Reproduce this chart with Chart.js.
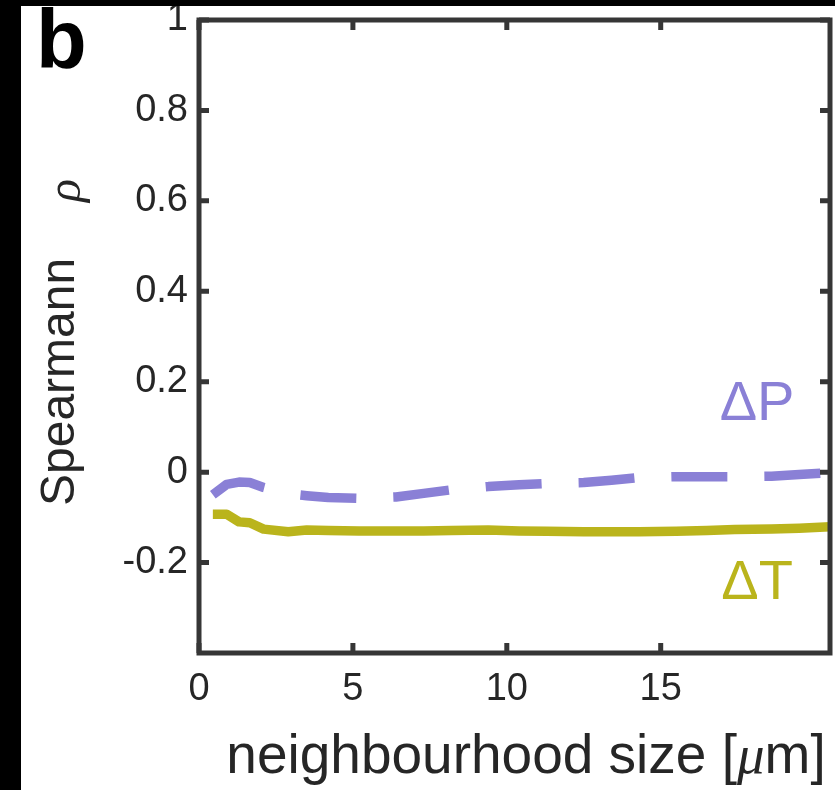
<!DOCTYPE html>
<html>
<head>
<meta charset="utf-8">
<script src="https://cdn.jsdelivr.net/npm/chart.js@4/dist/chart.umd.min.js"></script>
<style>
  html, body { margin: 0; padding: 0; background: #000; width: 835px; height: 790px; overflow: hidden; }
  #panel { position: absolute; left: 21px; top: 6px; width: 814px; height: 784px; background: #fff; }
  canvas { display: block; }
</style>
</head>
<body>
<div id="panel"><canvas id="chart" width="814" height="784"></canvas></div>
<script>
// neighbourhood size [µm]
const sizes  = [0.45, 0.9, 1.3, 1.65, 2.1, 2.9, 3.5, 4.2, 5.2, 6.4, 7.3, 8.2, 9.4, 10.4, 11.3, 12.5, 13.4, 14.3, 15.5, 16.5, 17.4, 18.6, 19.5, 20.5];
// Spearman correlation for the two quantities
const deltaP = [-0.050, -0.027, -0.022, -0.023, -0.034, -0.048, -0.052, -0.056, -0.058, -0.055, -0.047, -0.039, -0.032, -0.028, -0.025, -0.023, -0.018, -0.012, -0.010, -0.010, -0.010, -0.009, -0.005, -0.001];
const deltaT = [-0.093, -0.093, -0.110, -0.112, -0.126, -0.132, -0.128, -0.129, -0.130, -0.130, -0.130, -0.129, -0.128, -0.130, -0.131, -0.132, -0.132, -0.132, -0.131, -0.129, -0.127, -0.126, -0.124, -0.121];

const xTicks = [0, 5, 10, 15];
const yTicks = [-0.2, 0, 0.2, 0.4, 0.6, 0.8, 1];

const seriesNames = ['\u0394P', '\u0394T'];
const panelLetter = 'b';

const PURPLE = '#8a80d6';
const OLIVE  = '#bab41c';
const AXIS   = '#363636';
const TEXT   = '#262626';
const SANS   = '"Liberation Sans", Arial, Helvetica, sans-serif';
const SERIF  = '"Liberation Serif", "DejaVu Serif", serif';

const toPoints = ys => sizes.map((x, i) => ({ x: x, y: ys[i] }));

// Box around the axes with inward tick marks on all four sides
const framePlugin = {
  id: 'frame',
  afterDatasetsDraw(chart) {
    const { ctx, chartArea: a, scales: { x, y } } = chart;
    const tl = 10;
    ctx.save();
    ctx.strokeStyle = AXIS;
    ctx.lineWidth = 5;
    ctx.lineCap = 'butt';
    ctx.beginPath();
    x.ticks.forEach(t => {
      const px = x.getPixelForValue(t.value);
      ctx.moveTo(px, a.bottom); ctx.lineTo(px, a.bottom - tl);
      ctx.moveTo(px, a.top);    ctx.lineTo(px, a.top + tl);
    });
    y.ticks.forEach(t => {
      const py = y.getPixelForValue(t.value);
      ctx.moveTo(a.left, py);  ctx.lineTo(a.left + tl, py);
      ctx.moveTo(a.right, py); ctx.lineTo(a.right - tl, py);
    });
    ctx.stroke();
    ctx.lineJoin = 'miter';
    ctx.strokeRect(a.left, a.top, a.right - a.left, a.bottom - a.top);
    ctx.restore();
  }
};

// Axis titles, series labels and panel letter
const textPlugin = {
  id: 'texts',
  afterDraw(chart) {
    const { ctx, scales: { x, y } } = chart;
    ctx.save();
    ctx.textBaseline = 'alphabetic';

    // panel letter
    ctx.fillStyle = '#000';
    ctx.font = `bold 83px ${SANS}`;
    ctx.textAlign = 'left';
    ctx.fillText(panelLetter, 15, 62);

    // series labels placed in data space
    ctx.font = `56px ${SANS}`;
    ctx.textAlign = 'center';
    ctx.fillStyle = PURPLE;
    ctx.fillText(seriesNames[0], x.getPixelForValue(18.13), y.getPixelForValue(0.116));
    ctx.fillStyle = OLIVE;
    ctx.fillText(seriesNames[1], x.getPixelForValue(18.13), y.getPixelForValue(-0.281));

    // x title: neighbourhood size [µm] with italic mu
    ctx.fillStyle = TEXT;
    ctx.textAlign = 'left';
    const xParts = [
      { t: 'neighbourhood size [', f: `55px ${SANS}` },
      { t: '\u03bc', f: `italic 55px ${SERIF}` },
      { t: 'm]', f: `55px ${SANS}` }
    ];
    let total = 0;
    xParts.forEach(p => { ctx.font = p.f; p.w = ctx.measureText(p.t).width; total += p.w; });
    let cx = 505 - total / 2;
    xParts.forEach(p => { ctx.font = p.f; ctx.fillText(p.t, cx, 767); cx += p.w; });

    // y title: Spearmann rho, rotated
    ctx.translate(53, 500);
    ctx.rotate(-Math.PI / 2);
    ctx.font = `48px ${SANS}`;
    ctx.fillText('Spearmann', 0, 0);
    ctx.font = `italic 48px ${SERIF}`;
    ctx.fillText('\u03c1', 304, 6);
    ctx.restore();
  }
};

new Chart(document.getElementById('chart'), {
  type: 'line',
  data: {
    datasets: [
      {
        label: seriesNames[0],
        data: toPoints(deltaP),
        borderColor: PURPLE,
        borderWidth: 9.5,
        borderDash: [56, 37],
        borderCapStyle: 'butt',
        borderJoinStyle: 'round',
        pointRadius: 0,
        tension: 0,
        fill: false
      },
      {
        label: seriesNames[1],
        data: toPoints(deltaT),
        borderColor: OLIVE,
        borderWidth: 9.5,
        borderCapStyle: 'butt',
        borderJoinStyle: 'round',
        pointRadius: 0,
        tension: 0,
        fill: false
      }
    ]
  },
  options: {
    responsive: false,
    animation: false,
    events: [],
    layout: { padding: { top: 14, right: 5, left: 0, bottom: 0 } },
    plugins: { legend: { display: false }, tooltip: { enabled: false } },
    scales: {
      x: {
        type: 'linear',
        min: 0,
        max: 20.5,
        afterBuildTicks: s => { s.ticks = xTicks.map(v => ({ value: v })); },
        afterFit: s => { s.height = 137; s.paddingLeft = 0; s.paddingRight = 0; },
        grid: { display: false, drawTicks: false },
        border: { display: false },
        ticks: {
          font: { family: SANS, size: 38 },
          color: TEXT,
          padding: 14,
          maxRotation: 0,
          autoSkip: false,
          callback: v => String(v)
        }
      },
      y: {
        type: 'linear',
        min: -0.4,
        max: 1,
        afterBuildTicks: s => { s.ticks = yTicks.map(v => ({ value: v })); },
        afterFit: s => { s.width = 178; s.paddingTop = 0; s.paddingBottom = 0; },
        grid: { display: false, drawTicks: false },
        border: { display: false },
        ticks: {
          font: { family: SANS, size: 38 },
          color: TEXT,
          padding: 11,
          autoSkip: false,
          callback: v => String(Math.round(v * 10) / 10)
        }
      }
    }
  },
  plugins: [framePlugin, textPlugin]
});
</script>
</body>
</html>
